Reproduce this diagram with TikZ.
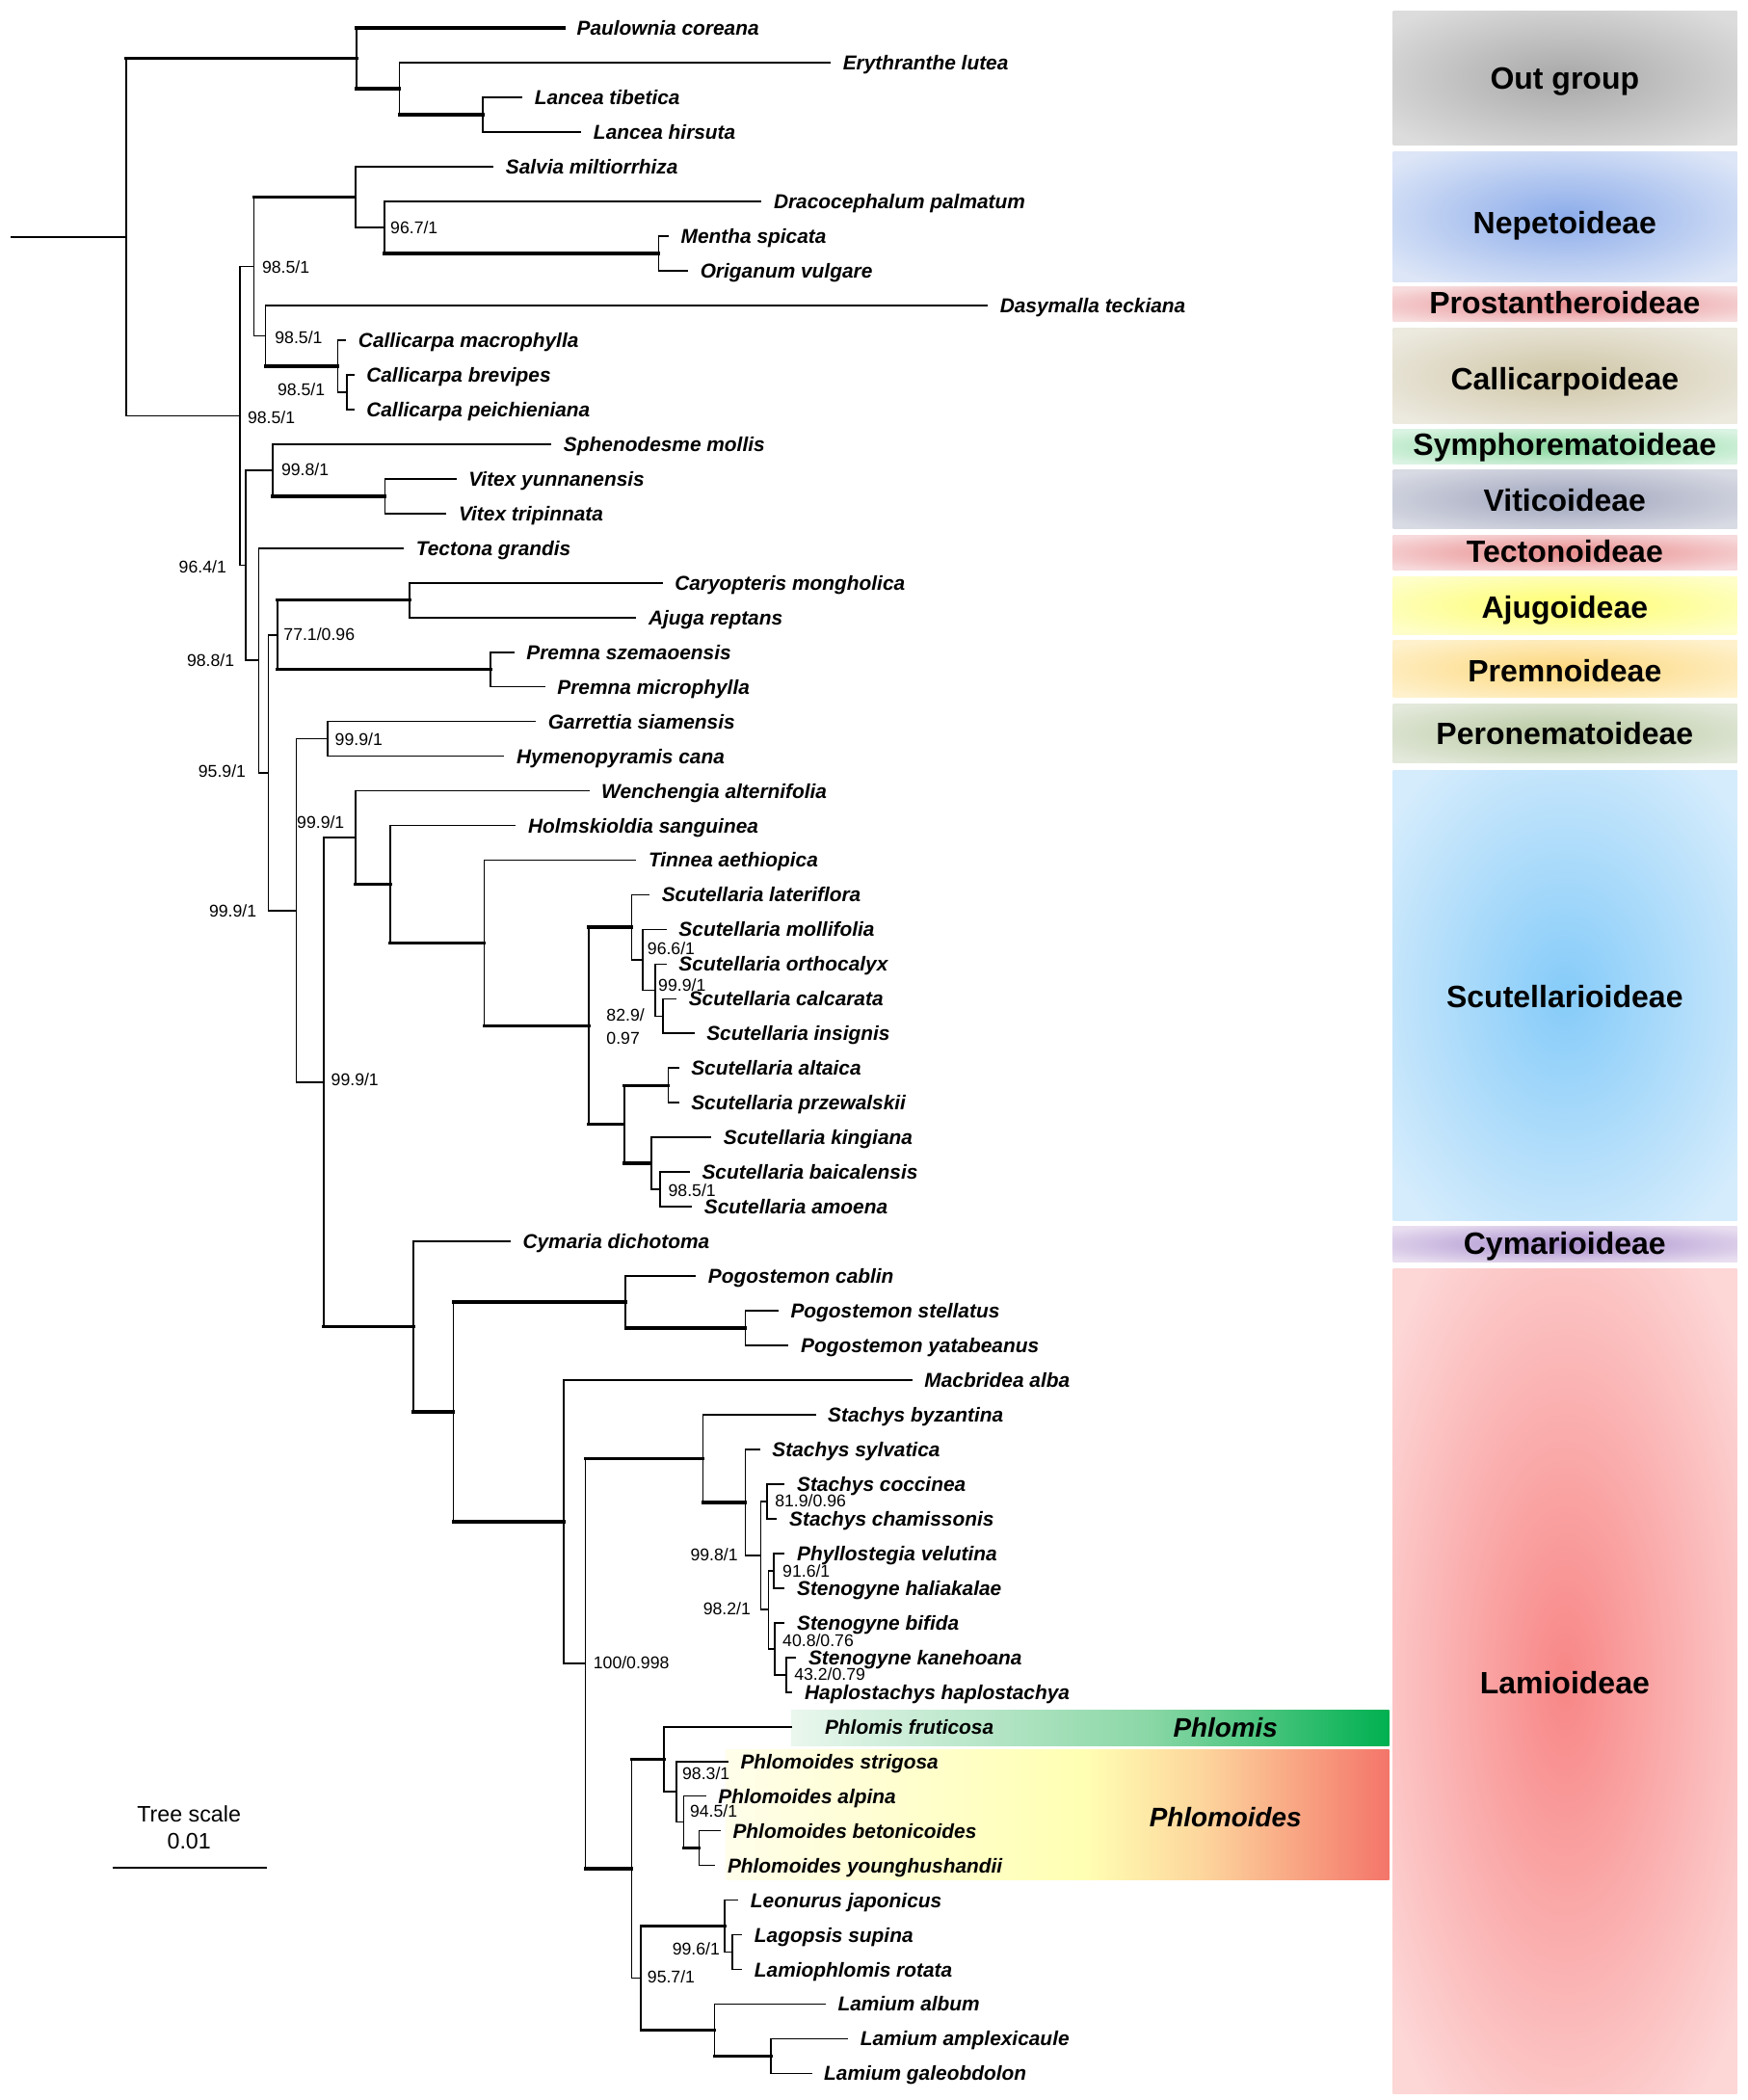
\documentclass[tikz,border=0pt]{standalone}
\usepackage{fontspec}
\setmainfont{Liberation Sans}
\definecolor{OutI}{HTML}{A8A8A8}\definecolor{OutO}{HTML}{DCDCDC}
\definecolor{NepI}{HTML}{8CACEA}\definecolor{NepO}{HTML}{DDE6F7}
\definecolor{ProI}{HTML}{E68A8E}\definecolor{ProO}{HTML}{F7DCDD}
\definecolor{CalI}{HTML}{CFC6A6}\definecolor{CalO}{HTML}{ECE9DF}
\definecolor{SymI}{HTML}{86D79C}\definecolor{SymO}{HTML}{DAF3E2}
\definecolor{VitI}{HTML}{9DA3BB}\definecolor{VitO}{HTML}{D9DBE4}
\definecolor{TecI}{HTML}{E88A8A}\definecolor{TecO}{HTML}{F7DADC}
\definecolor{AjuI}{HTML}{FEFE6E}\definecolor{AjuO}{HTML}{FEFEC9}
\definecolor{PreI}{HTML}{FDD77C}\definecolor{PreO}{HTML}{FEF1CC}
\definecolor{PerI}{HTML}{B6C79E}\definecolor{PerO}{HTML}{E3E9DB}
\definecolor{ScuI}{HTML}{85CBF9}\definecolor{ScuO}{HTML}{D5ECFC}
\definecolor{CymI}{HTML}{A98DCD}\definecolor{CymO}{HTML}{E8DEF0}
\definecolor{LamI}{HTML}{F88686}\definecolor{LamO}{HTML}{FDD6D6}
\definecolor{PhlA}{HTML}{EAF7EE}\definecolor{PhlB}{HTML}{8AD7A6}\definecolor{PhlC}{HTML}{00B050}
\definecolor{PyA}{HTML}{FFFEEA}\definecolor{PyB}{HTML}{FFFFB3}\definecolor{PyC}{HTML}{FDD59C}\definecolor{PyD}{HTML}{F4756A}
\pgfdeclareradialshading{shOut}{\pgfpoint{0bp}{0bp}}{color(0bp)=(OutI); color(32bp)=(OutO); color(50bp)=(OutO)}
\pgfdeclareradialshading{shNep}{\pgfpoint{0bp}{0bp}}{color(0bp)=(NepI); color(32bp)=(NepO); color(50bp)=(NepO)}
\pgfdeclareradialshading{shPro}{\pgfpoint{0bp}{0bp}}{color(0bp)=(ProI); color(32bp)=(ProO); color(50bp)=(ProO)}
\pgfdeclareradialshading{shCal}{\pgfpoint{0bp}{0bp}}{color(0bp)=(CalI); color(32bp)=(CalO); color(50bp)=(CalO)}
\pgfdeclareradialshading{shSym}{\pgfpoint{0bp}{0bp}}{color(0bp)=(SymI); color(32bp)=(SymO); color(50bp)=(SymO)}
\pgfdeclareradialshading{shVit}{\pgfpoint{0bp}{0bp}}{color(0bp)=(VitI); color(32bp)=(VitO); color(50bp)=(VitO)}
\pgfdeclareradialshading{shTec}{\pgfpoint{0bp}{0bp}}{color(0bp)=(TecI); color(32bp)=(TecO); color(50bp)=(TecO)}
\pgfdeclareradialshading{shAju}{\pgfpoint{0bp}{0bp}}{color(0bp)=(AjuI); color(32bp)=(AjuO); color(50bp)=(AjuO)}
\pgfdeclareradialshading{shPre}{\pgfpoint{0bp}{0bp}}{color(0bp)=(PreI); color(32bp)=(PreO); color(50bp)=(PreO)}
\pgfdeclareradialshading{shPer}{\pgfpoint{0bp}{0bp}}{color(0bp)=(PerI); color(32bp)=(PerO); color(50bp)=(PerO)}
\pgfdeclareradialshading{shScu}{\pgfpoint{0bp}{0bp}}{color(0bp)=(ScuI); color(32bp)=(ScuO); color(50bp)=(ScuO)}
\pgfdeclareradialshading{shCym}{\pgfpoint{0bp}{0bp}}{color(0bp)=(CymI); color(32bp)=(CymO); color(50bp)=(CymO)}
\pgfdeclareradialshading{shLam}{\pgfpoint{0bp}{0bp}}{color(0bp)=(LamI); color(32bp)=(LamO); color(50bp)=(LamO)}
\pgfdeclarehorizontalshading{shPhl}{100bp}{color(0bp)=(PhlA); color(25bp)=(PhlA); color(55bp)=(PhlB); color(75bp)=(PhlC); color(100bp)=(PhlC)}
\pgfdeclarehorizontalshading{shPhy}{100bp}{color(0bp)=(PyA); color(25bp)=(PyA); color(52bp)=(PyB); color(61bp)=(PyC); color(75bp)=(PyD); color(100bp)=(PyD)}
\newcommand{\TCl}[5]{%
  \draw[vl] (#1 |- #2) -- (#1 |- #4);
  \draw[#3] (#1 |- #2) -- (#2);
  \draw[#5] (#1 |- #4) -- (#4);}
\begin{document}
\begin{tikzpicture}[x=1pt,y=-1pt,
  thn/.style={line width=1.2pt,line cap=rect},
  thk/.style={line width=2.5pt,line cap=rect},
  vl/.style={line width=1.2pt,line cap=rect},
  leaf/.style={anchor=base west,inner sep=0pt,xshift=9.5pt,yshift=-5.4pt,font=\bfseries\itshape\fontsize{15}{16}\selectfont},
  supw/.style={anchor=base west,inner sep=0pt,yshift=-4.55pt,font=\fontsize{12.7}{13}\selectfont},
  supe/.style={supw,anchor=base east},
  grp/.style={anchor=base,inner sep=0pt,yshift=-8.2pt,font=\bfseries\fontsize{23}{24}\selectfont},
  gen/.style={anchor=base,inner sep=0pt,yshift=-7.2pt,font=\bfseries\itshape\fontsize{20}{21}\selectfont},
  scl/.style={anchor=base,inner sep=0pt,yshift=-6pt,font=\fontsize{16.7}{17}\selectfont}]
\useasboundingbox (0,0) rectangle (1303,1566);
\fill[white] (0,0) rectangle (1303,1566);
% ---- subfamily boxes
\shade[shading=shOut] (1039,8) rectangle (1295.5,108);
\shade[shading=shNep] (1039,113) rectangle (1295.5,210);
\shade[shading=shPro] (1039,214) rectangle (1295.5,240);
\shade[shading=shCal] (1039,244.5) rectangle (1295.5,316);
\shade[shading=shSym] (1039,320) rectangle (1295.5,346);
\shade[shading=shVit] (1039,350) rectangle (1295.5,394.5);
\shade[shading=shTec] (1039,399) rectangle (1295.5,425);
\shade[shading=shAju] (1039,430) rectangle (1295.5,473);
\shade[shading=shPre] (1039,477.5) rectangle (1295.5,520);
\shade[shading=shPer] (1039,525) rectangle (1295.5,568.5);
\shade[shading=shScu] (1039,574.5) rectangle (1295.5,910);
\shade[shading=shCym] (1039,914.5) rectangle (1295.5,941);
\shade[shading=shLam] (1039,946) rectangle (1295.5,1561);
\node[grp] (gOut) at (1167,58.5) {Out group};
\node[grp] (gNep) at (1167,166.2) {Nepetoideae};
\node[grp] (gPro) at (1167,226) {Prostantheroideae};
\node[grp] (gCal) at (1167,282.8) {Callicarpoideae};
\node[grp] (gSym) at (1167,331.5) {Symphorematoideae};
\node[grp] (gVit) at (1167,372.9) {Viticoideae};
\node[grp] (gTec) at (1167,411.1) {Tectonoideae};
\node[grp] (gAju) at (1167,452.5) {Ajugoideae};
\node[grp] (gPre) at (1167,500) {Premnoideae};
\node[grp] (gPer) at (1167,547.2) {Peronematoideae};
\node[grp] (gScu) at (1167,743.1) {Scutellarioideae};
\node[grp] (gCym) at (1167,926.9) {Cymarioideae};
\node[grp] (gLam) at (1167,1254.6) {Lamioideae};
% ---- genus bars
\shade[shading=shPhl] (590,1275) rectangle (1036,1302);
\shade[shading=shPhy] (541,1305) rectangle (1036,1402);
\node[gen] (gPhl) at (914,1288) {Phlomis};
\node[gen] (gPhy) at (914,1355) {Phlomoides};
% ---- leaves
\coordinate (l1) at (420.5,21.00);
\coordinate (l2) at (619,46.85);
\coordinate (l3) at (389,72.70);
\coordinate (l4) at (433,98.55);
\coordinate (l5) at (367.5,124.40);
\coordinate (l6) at (567.4,150.25);
\coordinate (l7) at (498.2,176.10);
\coordinate (l8) at (512.6,201.95);
\coordinate (l9) at (736.1,227.80);
\coordinate (l10) at (257.6,253.65);
\coordinate (l11) at (263.6,279.50);
\coordinate (l12) at (263.6,305.35);
\coordinate (l13) at (410.7,331.20);
\coordinate (l14) at (339.8,357.05);
\coordinate (l15) at (332.4,382.90);
\coordinate (l16) at (300.7,408.75);
\coordinate (l17) at (493.6,434.60);
\coordinate (l18) at (474,460.45);
\coordinate (l19) at (383,486.30);
\coordinate (l20) at (406,512.15);
\coordinate (l21) at (399.2,538.00);
\coordinate (l22) at (375.6,563.85);
\coordinate (l23) at (438.9,589.70);
\coordinate (l24) at (384.2,615.55);
\coordinate (l25) at (474,641.40);
\coordinate (l26) at (483.9,667.25);
\coordinate (l27) at (496.6,693.10);
\coordinate (l28) at (496.6,718.95);
\coordinate (l29) at (504,744.80);
\coordinate (l30) at (517.3,770.65);
\coordinate (l31) at (505.8,796.50);
\coordinate (l32) at (505.8,822.35);
\coordinate (l33) at (530,848.20);
\coordinate (l34) at (513.9,874.05);
\coordinate (l35) at (515.6,899.90);
\coordinate (l36) at (380.2,925.75);
\coordinate (l37) at (518.5,951.60);
\coordinate (l38) at (580,977.45);
\coordinate (l39) at (587.6,1003.30);
\coordinate (l40) at (679.8,1029.15);
\coordinate (l41) at (607.8,1055.00);
\coordinate (l42) at (566.3,1080.85);
\coordinate (l43) at (584.7,1106.70);
\coordinate (l44) at (579,1132.55);
\coordinate (l45) at (584.7,1158.40);
\coordinate (l46) at (584.7,1184.25);
\coordinate (l47) at (584.7,1210.10);
\coordinate (l48) at (593.3,1235.95);
\coordinate (l49) at (590.5,1261.80);
\coordinate (l50) at (590.5,1287.65);
\coordinate (l51) at (542.6,1313.50);
\coordinate (l52) at (526,1339.35);
\coordinate (l53) at (536.9,1365.20);
\coordinate (l54) at (532.9,1391.05);
\coordinate (l55) at (550.1,1416.90);
\coordinate (l56) at (553,1442.75);
\coordinate (l57) at (553,1468.60);
\coordinate (l58) at (615.2,1494.45);
\coordinate (l59) at (631.9,1520.30);
\coordinate (l60) at (604.9,1546.15);
% ---- internal nodes
\coordinate (rt) at (8.6,176.87);
\coordinate (nroot) at (94,176.87);
\coordinate (nout) at (266,43.62);
\coordinate (nery) at (298,66.24);
\coordinate (nlan) at (360,85.625);
\coordinate (nC) at (179,310.12);
\coordinate (nA) at (189.3,198.72);
\coordinate (nnep) at (265,147.02);
\coordinate (ndra) at (286.8,169.64);
\coordinate (nmo) at (491.3,189.025);
\coordinate (nB) at (198,250.42);
\coordinate (ncal) at (252,273.04);
\coordinate (ncb) at (258.8,292.425);
\coordinate (nE) at (183.3,421.52);
\coordinate (nD) at (203.5,350.59);
\coordinate (nvit) at (287,369.975);
\coordinate (nF) at (192.9,492.45);
\coordinate (nG) at (200.1,576.15);
\coordinate (nH) at (206.8,473.375);
\coordinate (naju) at (305.5,447.525);
\coordinate (npre) at (365.8,499.225);
\coordinate (nJ) at (220.9,678.93);
\coordinate (nI) at (244.4,550.925);
\coordinate (nK) at (241.5,806.94);
\coordinate (nL) at (265,624.54);
\coordinate (nM) at (290.9,659.375);
\coordinate (nN) at (361.2,703.2);
\coordinate (nO) at (439,765.0);
\coordinate (nSA) at (471.2,691.485);
\coordinate (nA2) at (479.3,715.72);
\coordinate (nA3) at (488.5,738.34);
\coordinate (nA4) at (494.3,757.725);
\coordinate (nSB) at (465.5,838.51);
\coordinate (nB1) at (498.3,809.425);
\coordinate (nB2) at (485.6,867.59);
\coordinate (nB3) at (492.5,886.975);
\coordinate (nlami) at (308.2,989.34);
\coordinate (nlp) at (338.2,1052.93);
\coordinate (npog) at (466.6,970.99);
\coordinate (npys) at (555.9,990.375);
\coordinate (nmac) at (420.6,1134.875);
\coordinate (nQ) at (436.7,1240.6);
\coordinate (nsta) at (524.2,1087.72);
\coordinate (nsyl) at (555.9,1120.43);
\coordinate (ns99) at (567.4,1160.02);
\coordinate (nsc) at (572,1119.625);
\coordinate (ns98) at (573.2,1200.41);
\coordinate (nph) at (577.2,1171.325);
\coordinate (nbif) at (577.8,1229.49);
\coordinate (nkh) at (586.4,1248.875);
\coordinate (nR) at (471.2,1393.48);
\coordinate (nT) at (495.4,1311.885);
\coordinate (nstr) at (504.7,1336.12);
\coordinate (nalp) at (509.8,1358.74);
\coordinate (nbet) at (521.3,1378.125);
\coordinate (nS) at (478.1,1475.07);
\coordinate (nleo) at (540.4,1436.29);
\coordinate (nlag) at (546.1,1455.675);
\coordinate (nlam) at (532.9,1513.84);
\coordinate (namp) at (574.9,1533.225);
% ---- branches
\draw[thn] (rt) -- (nroot);
\TCl{nroot}{nout}{thk}{nC}{thn}
\TCl{nout}{l1}{thk}{nery}{thk}
\TCl{nery}{l2}{thn}{nlan}{thk}
\TCl{nlan}{l3}{thn}{l4}{thn}
\TCl{nC}{nA}{thn}{nE}{thn}
\TCl{nA}{nnep}{thk}{nB}{thn}
\TCl{nnep}{l5}{thn}{ndra}{thn}
\TCl{ndra}{l6}{thn}{nmo}{thk}
\TCl{nmo}{l7}{thn}{l8}{thn}
\TCl{nB}{l9}{thn}{ncal}{thk}
\TCl{ncal}{l10}{thn}{ncb}{thn}
\TCl{ncb}{l11}{thn}{l12}{thn}
\TCl{nE}{nD}{thn}{nF}{thn}
\TCl{nD}{l13}{thn}{nvit}{thk}
\TCl{nvit}{l14}{thn}{l15}{thn}
\TCl{nF}{l16}{thn}{nG}{thn}
\TCl{nG}{nH}{thn}{nJ}{thn}
\TCl{nH}{naju}{thk}{npre}{thk}
\TCl{naju}{l17}{thn}{l18}{thn}
\TCl{npre}{l19}{thn}{l20}{thn}
\TCl{nJ}{nI}{thn}{nK}{thn}
\TCl{nI}{l21}{thn}{l22}{thn}
\TCl{nK}{nL}{thn}{nlami}{thk}
\TCl{nL}{l23}{thn}{nM}{thk}
\TCl{nM}{l24}{thn}{nN}{thk}
\TCl{nN}{l25}{thn}{nO}{thk}
\TCl{nO}{nSA}{thk}{nSB}{thk}
\TCl{nSA}{l26}{thn}{nA2}{thn}
\TCl{nA2}{l27}{thn}{nA3}{thn}
\TCl{nA3}{l28}{thn}{nA4}{thn}
\TCl{nA4}{l29}{thn}{l30}{thn}
\TCl{nSB}{nB1}{thk}{nB2}{thk}
\TCl{nB1}{l31}{thn}{l32}{thn}
\TCl{nB2}{l33}{thn}{nB3}{thn}
\TCl{nB3}{l34}{thn}{l35}{thn}
\TCl{nlami}{l36}{thn}{nlp}{thk}
\TCl{nlp}{npog}{thk}{nmac}{thk}
\TCl{npog}{l37}{thn}{npys}{thk}
\TCl{npys}{l38}{thn}{l39}{thn}
\TCl{nmac}{l40}{thn}{nQ}{thn}
\TCl{nQ}{nsta}{thk}{nR}{thk}
\TCl{nsta}{l41}{thn}{nsyl}{thk}
\TCl{nsyl}{l42}{thn}{ns99}{thn}
\TCl{ns99}{nsc}{thn}{ns98}{thn}
\TCl{nsc}{l43}{thn}{l44}{thn}
\TCl{ns98}{nph}{thn}{nbif}{thn}
\TCl{nph}{l45}{thn}{l46}{thn}
\TCl{nbif}{l47}{thn}{nkh}{thn}
\TCl{nkh}{l48}{thn}{l49}{thn}
\TCl{nR}{nT}{thk}{nS}{thn}
\TCl{nT}{l50}{thn}{nstr}{thn}
\TCl{nstr}{l51}{thn}{nalp}{thn}
\TCl{nalp}{l52}{thn}{nbet}{thk}
\TCl{nbet}{l53}{thn}{l54}{thn}
\TCl{nS}{nleo}{thk}{nlam}{thk}
\TCl{nleo}{l55}{thn}{nlag}{thn}
\TCl{nlag}{l56}{thn}{l57}{thn}
\TCl{nlam}{l58}{thn}{namp}{thk}
\TCl{namp}{l59}{thn}{l60}{thn}
% ---- leaf labels
\node[leaf] (t1) at (l1) {Paulownia coreana};
\node[leaf] (t2) at (l2) {Erythranthe lutea};
\node[leaf] (t3) at (l3) {Lancea tibetica};
\node[leaf] (t4) at (l4) {Lancea hirsuta};
\node[leaf] (t5) at (l5) {Salvia miltiorrhiza};
\node[leaf] (t6) at (l6) {Dracocephalum palmatum};
\node[leaf] (t7) at (l7) {Mentha spicata};
\node[leaf] (t8) at (l8) {Origanum vulgare};
\node[leaf] (t9) at (l9) {Dasymalla teckiana};
\node[leaf] (t10) at (l10) {Callicarpa macrophylla};
\node[leaf] (t11) at (l11) {Callicarpa brevipes};
\node[leaf] (t12) at (l12) {Callicarpa peichieniana};
\node[leaf] (t13) at (l13) {Sphenodesme mollis};
\node[leaf] (t14) at (l14) {Vitex yunnanensis};
\node[leaf] (t15) at (l15) {Vitex tripinnata};
\node[leaf] (t16) at (l16) {Tectona grandis};
\node[leaf] (t17) at (l17) {Caryopteris mongholica};
\node[leaf] (t18) at (l18) {Ajuga reptans};
\node[leaf] (t19) at (l19) {Premna szemaoensis};
\node[leaf] (t20) at (l20) {Premna microphylla};
\node[leaf] (t21) at (l21) {Garrettia siamensis};
\node[leaf] (t22) at (l22) {Hymenopyramis cana};
\node[leaf] (t23) at (l23) {Wenchengia alternifolia};
\node[leaf] (t24) at (l24) {Holmskioldia sanguinea};
\node[leaf] (t25) at (l25) {Tinnea aethiopica};
\node[leaf] (t26) at (l26) {Scutellaria lateriflora};
\node[leaf] (t27) at (l27) {Scutellaria mollifolia};
\node[leaf] (t28) at (l28) {Scutellaria orthocalyx};
\node[leaf] (t29) at (l29) {Scutellaria calcarata};
\node[leaf] (t30) at (l30) {Scutellaria insignis};
\node[leaf] (t31) at (l31) {Scutellaria altaica};
\node[leaf] (t32) at (l32) {Scutellaria przewalskii};
\node[leaf] (t33) at (l33) {Scutellaria kingiana};
\node[leaf] (t34) at (l34) {Scutellaria baicalensis};
\node[leaf] (t35) at (l35) {Scutellaria amoena};
\node[leaf] (t36) at (l36) {Cymaria dichotoma};
\node[leaf] (t37) at (l37) {Pogostemon cablin};
\node[leaf] (t38) at (l38) {Pogostemon stellatus};
\node[leaf] (t39) at (l39) {Pogostemon yatabeanus};
\node[leaf] (t40) at (l40) {Macbridea alba};
\node[leaf] (t41) at (l41) {Stachys byzantina};
\node[leaf] (t42) at (l42) {Stachys sylvatica};
\node[leaf] (t43) at (l43) {Stachys coccinea};
\node[leaf] (t44) at (l44) {Stachys chamissonis};
\node[leaf] (t45) at (l45) {Phyllostegia velutina};
\node[leaf] (t46) at (l46) {Stenogyne haliakalae};
\node[leaf] (t47) at (l47) {Stenogyne bifida};
\node[leaf] (t48) at (l48) {Stenogyne kanehoana};
\node[leaf] (t49) at (l49) {Haplostachys haplostachya};
\node[leaf,xshift=15pt] (t50) at (l50) {Phlomis fruticosa};
\node[leaf] (t51) at (l51) {Phlomoides strigosa};
\node[leaf] (t52) at (l52) {Phlomoides alpina};
\node[leaf] (t53) at (l53) {Phlomoides betonicoides};
\node[leaf] (t54) at (l54) {Phlomoides younghushandii};
\node[leaf] (t55) at (l55) {Leonurus japonicus};
\node[leaf] (t56) at (l56) {Lagopsis supina};
\node[leaf] (t57) at (l57) {Lamiophlomis rotata};
\node[leaf] (t58) at (l58) {Lamium album};
\node[leaf] (t59) at (l59) {Lamium amplexicaule};
\node[leaf] (t60) at (l60) {Lamium galeobdolon};
% ---- support values
\node[supw] (s1) at (291,170) {96.7/1};
\node[supw] (s2) at (195.3,198.9) {98.5/1};
\node[supw] (s3) at (204.9,251.6) {98.5/1};
\node[supe] (s4) at (242.5,290.4) {98.5/1};
\node[supw] (s5) at (184.5,311) {98.5/1};
\node[supw] (s6) at (209.7,349.9) {99.8/1};
\node[supe] (s7) at (169,422.5) {96.4/1};
\node[supe] (s8) at (175,492.5) {98.8/1};
\node[supw] (s9) at (211.4,473.3) {77.1/0.96};
\node[supe] (s10) at (183.5,575) {95.9/1};
\node[supw] (s11) at (249.7,551.6) {99.9/1};
\node[supe] (s12) at (191.5,679) {99.9/1};
\node[supe] (s13) at (257,613.5) {99.9/1};
\node[supw] (s14) at (246.8,805.2) {99.9/1};
\node[supw] (s15) at (482.7,707.6) {96.6/1};
\node[supw] (s16) at (490.8,734.5) {99.9/1};
\node[supw] (s17) at (452.2,757.2) {82.9/};
\node[supw] (s18) at (452.2,774) {0.97};
\node[supw] (s19) at (498.3,887.8) {98.5/1};
\node[supw] (s20) at (577.8,1119) {81.9/0.96};
\node[supw] (s21) at (583.5,1171.8) {91.6/1};
\node[supe] (s22) at (550.5,1159.4) {99.8/1};
\node[supe] (s23) at (560,1199.4) {98.2/1};
\node[supw] (s24) at (583.5,1223.3) {40.8/0.76};
\node[supw] (s25) at (592.2,1248.5) {43.2/0.79};
\node[supw] (s26) at (442.4,1240.1) {100/0.998};
\node[supw] (s27) at (508.7,1322.8) {98.3/1};
\node[supw] (s28) at (514.4,1350.3) {94.5/1};
\node[supe] (s29) at (537,1453.4) {99.6/1};
\node[supw] (s30) at (482.7,1474.2) {95.7/1};
% ---- tree scale
\node[scl] (tsA) at (141,1352.7) {Tree scale};
\node[scl] (tsB) at (141,1373.1) {0.01};
\coordinate (sbL) at (84,1393);
\coordinate (sbR) at (199.3,1393);
\draw[line width=1.6pt] (sbL) -- (sbR);
\end{tikzpicture}
\end{document}
